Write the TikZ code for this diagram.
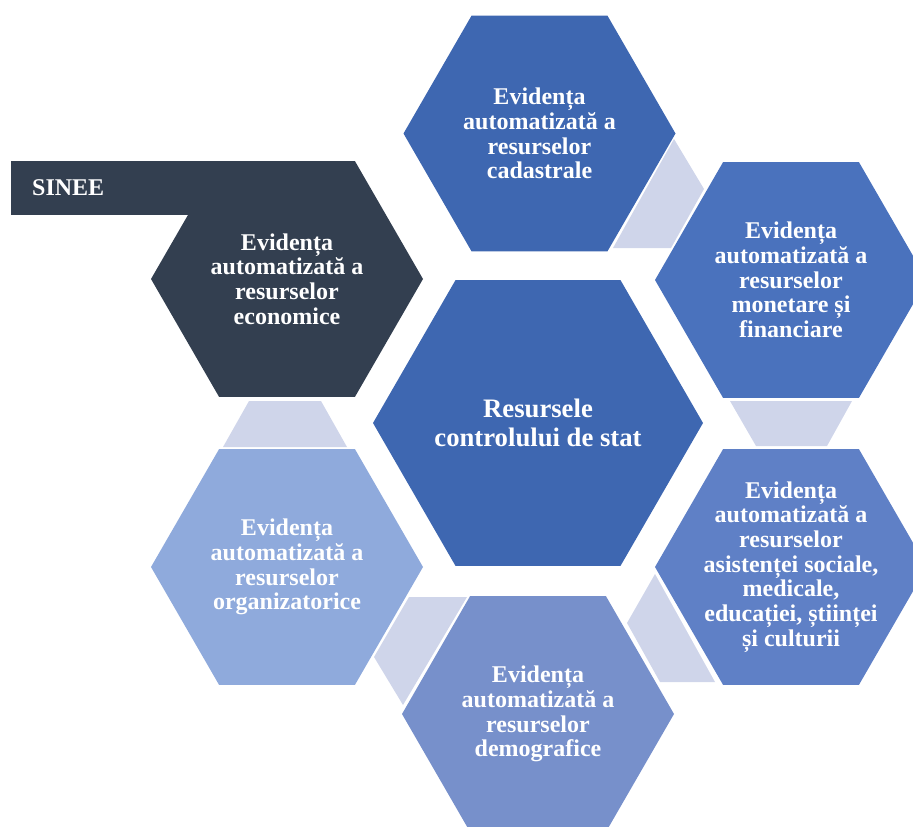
\documentclass[tikz,border=0pt]{standalone}
\usepackage{fontspec}
\setmainfont{Liberation Serif}
\usetikzlibrary{shapes.geometric}
\definecolor{hdark}{HTML}{333F50}
\definecolor{hmain}{HTML}{3E67B1}
\definecolor{hmon}{HTML}{4A72BD}
\definecolor{hasi}{HTML}{5F80C6}
\definecolor{hdem}{HTML}{7790CB}
\definecolor{horg}{HTML}{8FAADC}
\definecolor{hlink}{HTML}{CFD5EA}

\begin{document}
\begin{tikzpicture}[x=1pt, y=-1pt,
        hexa/.style={regular polygon, regular polygon sides=6, minimum size=272pt,
            inner sep=0pt, outer sep=0pt},
        hexbig/.style={hexa, minimum size=330pt},
        hextext/.style={text=white, align=center, inner sep=0pt,
            font=\bfseries\fontsize{24}{24.7}\selectfont},
        link/.style={fill=hlink}
    ]
    \useasboundingbox (0,0) rectangle (913,827);
    \clip (0,0) rectangle (913,827);

    \node[hexbig, fill=hmain, label={[hextext, font=\bfseries\fontsize{26.7}{29}\selectfont]center:{Resursele\\controlului de stat}}] (res) at (538,423) {};
    \node[hexa, fill=hmain, label={[hextext]center:{Evidența\\automatizată a\\resurselor\\cadastrale}}] (cad) at (539.5,133.5) {};
    \node[hexa, fill=hmon, label={[hextext]center:{Evidența\\automatizată a\\resurselor\\monetare și\\financiare}}] (mon) at (791,280) {};
    \node[hexa, fill=hasi, label={[hextext]center:{Evidența\\automatizată a\\resurselor\\asistenței sociale,\\medicale,\\educației, științei\\și culturii}}] (asi) at (791,567) {};
    \node[hexa, fill=hdem, label={[hextext]center:{Evidența\\automatizată a\\resurselor\\demografice}}] (dem) at (538,714) {};
    \node[hexa, fill=horg, label={[hextext]center:{Evidența\\automatizată a\\resurselor\\organizatorice}}] (org) at (287,567) {};
    \node[hexa, fill=hdark, label={[hextext]center:{Evidența\\automatizată a\\resurselor\\economice}}] (eco) at (287,279) {};

    \fill[hdark] (eco.north -| 11,0) rectangle (240,215);
    \node[anchor=base west, inner sep=0pt, text=white,
        font=\bfseries\fontsize{24}{24}\selectfont] (sinee) at (32,195) {SINEE};

    \fill[link] (674,139) -- (704,189) -- (671,248) -- (613,248) -- cycle;
    \fill[link] (730,401) -- (852,401) -- (827,446) -- (756,446) -- cycle;
    \fill[link] (655,574) -- (715,682) -- (660,682) -- (627,623) -- cycle;
    \fill[link] (409,597) -- (467,597) -- (403,705) -- (374,657) -- cycle;
    \fill[link] (249,401) -- (321,401) -- (347,447) -- (223,447) -- cycle;
\end{tikzpicture}
\end{document}
